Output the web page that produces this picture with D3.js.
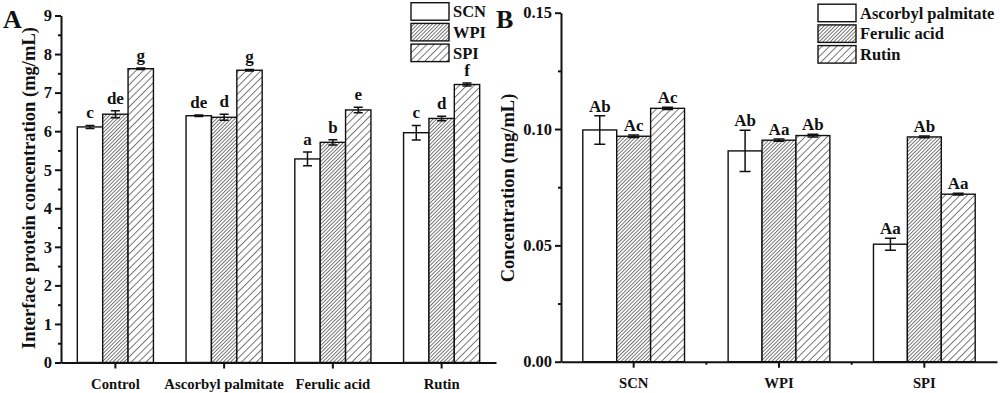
<!DOCTYPE html>
<html>
<head>
<meta charset="utf-8">
<script src="https://cdn.jsdelivr.net/npm/d3@7"></script>
<style>
    html, body { margin: 0; padding: 0; background: #fff; }
    #figure { width: 1000px; height: 393px; }
    svg text { font-family: "Liberation Serif", "Times New Roman", serif; font-weight: bold; fill: #111; }
    .axis path, .axis line { stroke: #111; stroke-width: 2; }
    .bar { stroke: #111; stroke-width: 1.4; }
    .err { stroke: #111; stroke-width: 1.5; fill: none; }
</style>
</head>
<body>
<div id="figure"></div>
<script>
(function () {
    "use strict";

    // Panel A: interface protein concentration (mg/mL)
    const aGroups = ["Control", "Ascorbyl palmitate", "Ferulic acid", "Rutin"];
    const aSeries = ["SCN", "WPI", "SPI"];
    const aValues = [
        [6.11, 6.44, 7.62],
        [6.40, 6.36, 7.58],
        [5.28, 5.71, 6.55],
        [5.96, 6.33, 7.21]
    ];
    const aErrors = [
        [0.04, 0.09, 0.02],
        [0.02, 0.08, 0.02],
        [0.18, 0.07, 0.07],
        [0.19, 0.06, 0.04]
    ];
    const aLetters = [
        ["c", "de", "g"],
        ["de", "d", "g"],
        ["a", "b", "e"],
        ["c", "d", "f"]
    ];
    const aTicks = [0, 1, 2, 3, 4, 5, 6, 7, 8, 9];

    // Panel B: concentration (mg/mL)
    const bGroups = ["SCN", "WPI", "SPI"];
    const bSeries = ["Ascorbyl palmitate", "Ferulic acid", "Rutin"];
    const bValues = [
        [0.0996, 0.0969, 0.1089],
        [0.0906, 0.0952, 0.0972],
        [0.0505, 0.0966, 0.0720]
    ];
    const bErrors = [
        [0.0061, 0.0005, 0.0005],
        [0.0089, 0.0005, 0.0006],
        [0.0026, 0.0004, 0.0004]
    ];
    const bLetters = [
        ["Ab", "Ac", "Ac"],
        ["Ab", "Aa", "Ab"],
        ["Aa", "Ab", "Aa"]
    ];
    const bTicks = [0, 0.05, 0.10, 0.15];

    const fills = ["#fff", "url(#hatch-dense)", "url(#hatch-sparse)"];

    function addPatterns(svg) {
        const defs = svg.append("defs");
        const specs = [
            { id: "hatch-dense", gap: 2.6 },
            { id: "hatch-sparse", gap: 5.2 }
        ];
        for (const spec of specs) {
            const p = defs.append("pattern")
                .attr("id", spec.id)
                .attr("patternUnits", "userSpaceOnUse")
                .attr("width", spec.gap)
                .attr("height", spec.gap)
                .attr("patternTransform", "rotate(45)");
            p.append("rect")
                .attr("width", spec.gap)
                .attr("height", spec.gap)
                .attr("fill", "#fff");
            p.append("line")
                .attr("x1", 0.5).attr("y1", 0)
                .attr("x2", 0.5).attr("y2", spec.gap)
                .attr("stroke", "#555")
                .attr("stroke-width", 0.8);
        }
    }

    function drawPanel(svg, cfg) {
        const g = svg.append("g").attr("class", "panel");

        const x = d3.scaleBand()
            .domain(cfg.groups)
            .range([cfg.left, cfg.right]);

        const inner = d3.scaleBand()
            .domain(cfg.series)
            .range([-x.bandwidth() * 0.35, x.bandwidth() * 0.35]);

        const y = d3.scaleLinear()
            .domain(cfg.domain)
            .range([cfg.bottom, cfg.top]);

        // bars
        cfg.groups.forEach((grp, i) => {
            const cx = x(grp) + x.bandwidth() / 2;
            const gg = g.append("g").attr("class", "group");
            cfg.series.forEach((s, j) => {
                const v = cfg.values[i][j];
                const e = cfg.errors[i][j];
                const bx = cx + inner(s);
                const mid = bx + inner.bandwidth() / 2;
                gg.append("rect")
                    .attr("class", "bar")
                    .attr("x", bx)
                    .attr("y", y(v))
                    .attr("width", inner.bandwidth())
                    .attr("height", y(0) - y(v))
                    .attr("fill", fills[j]);
                gg.append("path")
                    .attr("class", "err")
                    .attr("d", `M${mid},${y(v + e)}V${y(v - e)}` +
                        `M${mid - cfg.cap},${y(v + e)}H${mid + cfg.cap}` +
                        `M${mid - cfg.cap},${y(v - e)}H${mid + cfg.cap}`);
                gg.append("text")
                    .attr("x", mid)
                    .attr("y", y(v + e) - cfg.letterGap)
                    .attr("text-anchor", "middle")
                    .style("font-size", "17px")
                    .text(cfg.letters[i][j]);
            });
        });

        // y axis, major then minor ticks
        const yAxis = d3.axisLeft(y)
            .tickValues(cfg.ticks)
            .tickFormat(cfg.format)
            .tickSize(6)
            .tickSizeOuter(0)
            .tickPadding(3);

        const yg = g.append("g")
            .attr("class", "axis y-axis")
            .attr("transform", `translate(${cfg.left},0)`)
            .call(yAxis);
        yg.selectAll(".tick text").style("font-size", "16.5px").attr("fill", "#111");

        g.append("g")
            .attr("class", "axis y-minor")
            .attr("transform", `translate(${cfg.left},0)`)
            .call(d3.axisLeft(y).tickValues(cfg.minor).tickFormat("").tickSize(3).tickSizeOuter(0))
            .select(".domain").remove();

        // x axis
        const xg = g.append("g")
            .attr("class", "axis x-axis")
            .attr("transform", `translate(0,${cfg.bottom})`)
            .call(d3.axisBottom(x).tickSize(6).tickSizeOuter(0).tickPadding(10));
        xg.selectAll(".tick text").style("font-size", "14.7px").attr("fill", "#111");

        if (cfg.xMinor) {
            const mids = cfg.groups.slice(1).map(d => x(d));
            xg.selectAll(".minor")
                .data(mids)
                .enter()
                .append("line")
                .attr("class", "minor")
                .attr("x1", d => d).attr("x2", d => d)
                .attr("y1", 0).attr("y2", 3);
        }

        // axis title
        g.append("text")
            .attr("transform", `translate(${cfg.titleX},${cfg.titleY}) rotate(-90)`)
            .attr("text-anchor", "middle")
            .style("font-size", "18.5px")
            .text(cfg.title);

        // panel letter
        g.append("text")
            .attr("x", cfg.tagX)
            .attr("y", 28)
            .style("font-size", "26px")
            .text(cfg.tag);

        // legend
        const legend = g.append("g").attr("class", "legend");
        cfg.series.forEach((s, j) => {
            const ly = cfg.legendY + j * 20.7;
            legend.append("rect")
                .attr("class", "bar")
                .attr("x", cfg.legendX)
                .attr("y", ly)
                .attr("width", 38)
                .attr("height", 17.5)
                .attr("fill", fills[j]);
            legend.append("text")
                .attr("x", cfg.legendX + 42)
                .attr("y", ly + 14.5)
                .style("font-size", "16.5px")
                .text(s);
        });
    }

    const svg = d3.select("#figure")
        .append("svg")
        .attr("width", 1000)
        .attr("height", 393);

    addPatterns(svg);

    drawPanel(svg, {
        groups: aGroups, series: aSeries, values: aValues, errors: aErrors, letters: aLetters,
        ticks: aTicks, minor: d3.range(0.5, 9, 1), format: d3.format("d"),
        domain: [0, 9], left: 61, right: 496, top: 15.5, bottom: 362.5,
        cap: 4.5, letterGap: 7, xMinor: false,
        title: "Interface protein concentration (mg/mL)", titleX: 35, titleY: 188,
        tag: "A", tagX: 3, legendX: 411, legendY: 2.7
    });

    drawPanel(svg, {
        groups: bGroups, series: bSeries, values: bValues, errors: bErrors, letters: bLetters,
        ticks: bTicks, minor: [0.025, 0.075, 0.125], format: d3.format(".2f"),
        domain: [0, 0.15], left: 561, right: 997, top: 12.7, bottom: 361.7,
        cap: 5.5, letterGap: 4, xMinor: true,
        title: "Concentration (mg/mL)", titleX: 513.5, titleY: 188,
        tag: "B", tagX: 496, legendX: 818, legendY: 4.2
    });
}());
</script>
</body>
</html>
